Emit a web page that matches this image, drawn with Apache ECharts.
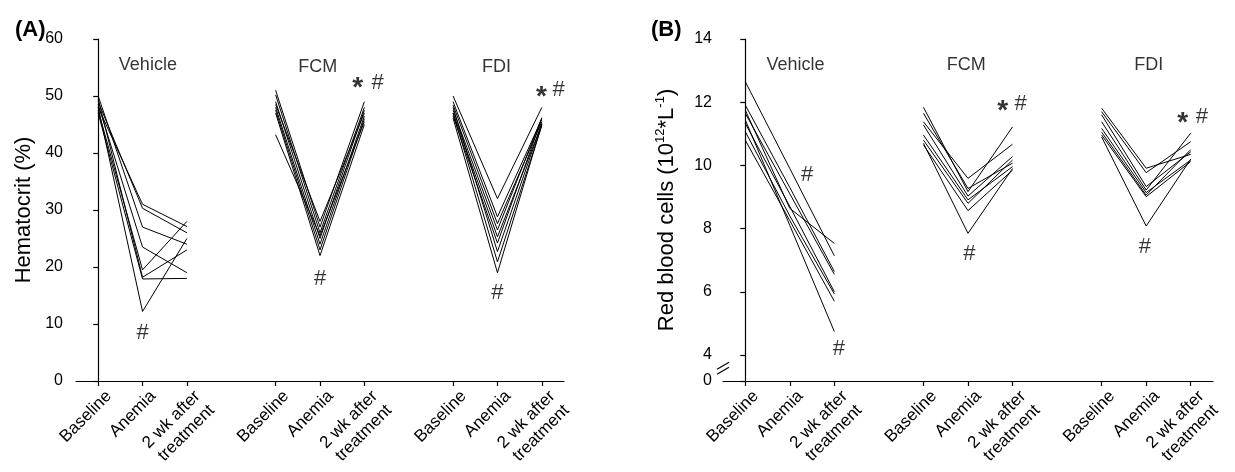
<!DOCTYPE html>
<html><head><meta charset="utf-8">
<script src="https://cdn.jsdelivr.net/npm/echarts@6/dist/echarts.min.js"></script>
<style>html,body{margin:0;padding:0;background:#fff}#c{width:1235px;height:472px}</style>
</head><body><div id="c"></div>
<script>
// ---- data ----
const categories = ['Baseline', 'Anemia', '2 wk after\ntreatment'];
const groups = ['Vehicle', 'FCM', 'FDI'];

// Hematocrit (%) per animal: [Baseline, Anemia, 2 wk after treatment]
const hctVehicle = [
  [48.0, 31.0, 27.1], [49.0, 30.3, 26.0], [50.0, 27.0, 24.0], [48.5, 23.5, 19.0],
  [47.5, 19.5, 28.0], [49.5, 18.2, 23.0], [47.0, 17.9, 18.0], [48.0, 12.2, 25.0]
];
const hctFCM = [
  [51.0, 27.0, 49.0], [50.2, 26.0, 48.0], [49.0, 25.0, 47.5], [48.0, 24.0, 46.5],
  [47.5, 23.0, 46.0], [47.0, 22.0, 45.0], [43.2, 25.5, 45.5], [48.5, 28.0, 47.0]
];
const hctFDI = [
  [50.0, 32.0, 48.0], [49.0, 28.8, 46.0], [48.4, 27.6, 45.5], [47.5, 26.5, 46.2],
  [47.0, 25.3, 45.0], [46.5, 24.2, 46.0], [48.0, 22.7, 45.2], [47.0, 20.9, 44.8],
  [46.1, 19.0, 45.0]
];

// Red blood cells (10^12/L)
const rbcVehicle = [
  [12.65, 9.90, 7.14], [11.91, 9.30, 6.64], [11.75, 8.64, 7.53], [11.65, 9.10, 6.55],
  [11.44, 8.10, 4.74], [11.33, 8.70, 6.00], [11.07, 8.40, 5.93], [10.80, 8.25, 5.70]
];
const rbcFCM = [
  [11.38, 9.59, 10.67], [11.84, 9.17, 11.22], [11.65, 9.27, 10.07], [11.28, 9.03, 10.28],
  [10.96, 8.91, 9.96], [10.80, 8.80, 10.17], [10.65, 8.57, 9.85], [10.70, 7.85, 9.90]
];
const rbcFDI = [
  [11.81, 9.91, 10.35], [11.70, 9.77, 10.75], [11.60, 9.33, 10.43], [11.38, 9.22, 11.02],
  [11.17, 9.14, 10.17], [11.05, 9.06, 10.50], [10.96, 9.01, 10.12], [10.90, 8.08, 10.20]
];

const hctTicks = [0, 10, 20, 30, 40, 50, 60];
const rbcTicks = [0, 4, 6, 8, 10, 12, 14];
const rbcBreakMin = 3.177;   // axis bottom (shown as 0, axis broken)

// annotations: [x position, value, text]
const hctGroupLabels = [[1.12, 55.4, 'Vehicle'], [4.95, 55.1, 'FCM'], [8.98, 55.1, 'FDI']];
const rbcGroupLabels = [[1.13, 13.18, 'Vehicle'], [4.96, 13.18, 'FCM'], [9.06, 13.18, 'FDI']];
const hctMarks = [[1.0, 8.4, '#'], [5.0, 17.9, '#'], [5.85, 51.4, '*'], [6.30, 52.3, '#'],
                  [9.0, 15.4, '#'], [9.99, 49.8, '*'], [10.38, 51.0, '#']];
const rbcMarks = [[1.39, 9.70, '#'], [2.10, 4.19, '#'], [5.03, 7.20, '#'], [5.78, 11.72, '*'],
                  [6.18, 11.94, '#'], [8.97, 7.42, '#'], [9.82, 11.34, '*'], [10.25, 11.53, '#']];

// ---- chart ----
const FONT = 'Liberation Sans, Arial, sans-serif';
const catPositions = [];
groups.forEach((g, gi) => categories.forEach((c, ci) => catPositions.push(gi * 4 + ci)));

function lineSeries(sets, gridIdx) {
  const out = [];
  sets.forEach((set, gi) => {
    set.forEach(animal => {
      out.push({
        type: 'line', xAxisIndex: gridIdx, yAxisIndex: gridIdx,
        data: animal.map((v, ci) => [gi * 4 + ci, v]),
        symbol: 'none', silent: true,
        lineStyle: { color: '#000', width: 1 }
      });
    });
  });
  return out;
}
function textSeries(items, gridIdx, isGroup) {
  return {
    type: 'scatter', xAxisIndex: gridIdx, yAxisIndex: gridIdx, silent: true,
    symbolSize: 1, itemStyle: { color: 'rgba(0,0,0,0)' },
    data: items.map(it => ({
      value: [it[0], it[1]],
      label: {
        show: true, position: 'inside', formatter: it[2], color: '#000', fontFamily: FONT,
        fontSize: isGroup ? 18 : (it[2] === '*' ? 28 : 22),
        fontWeight: it[2] === '*' ? 'bold' : 'normal'
      }
    }))
  };
}
function xAxis(gridIndex) {
  return {
    type: 'value', gridIndex, min: -0.5, max: 10.5,
    axisLine: { show: true, lineStyle: { color: '#000', width: 1.2 } },
    axisTick: { show: true, customValues: catPositions, length: 5, lineStyle: { color: '#000', width: 1.2 } },
    axisLabel: {
      customValues: catPositions, rotate: 45, margin: 2, fontSize: 17, lineHeight: 20,
      color: '#000', fontFamily: FONT, verticalAlign: 'top', align: 'right', padding: [5, 0, 0, 0],
      formatter: v => categories[Math.round(v) % 4] || ''
    },
    splitLine: { show: false }
  };
}

const chart = echarts.init(document.getElementById('c'));
chart.setOption({
  animation: false,
  backgroundColor: '#fff',
  textStyle: { fontFamily: FONT, color: '#000' },
  title: [
    { text: '(A)', left: 10, top: 14, textStyle: { fontSize: 22, fontWeight: 'bold', color: '#000', fontFamily: FONT } },
    { text: '(B)', left: 646, top: 14, textStyle: { fontSize: 22, fontWeight: 'bold', color: '#000', fontFamily: FONT } }
  ],
  grid: [
    { left: 76, top: 39, width: 488, height: 342 },
    { left: 723, top: 39, width: 490, height: 342 }
  ],
  xAxis: [xAxis(0), xAxis(1)],
  yAxis: [
    {
      type: 'value', gridIndex: 0, min: 0, max: 60, interval: 10,
      name: 'Hematocrit (%)', nameLocation: 'middle', nameGap: 41,
      nameTextStyle: { fontSize: 22, color: '#000', fontFamily: FONT },
      axisLine: { show: true, lineStyle: { color: '#000', width: 1.2 } },
      axisTick: { show: true, length: 5, lineStyle: { color: '#000', width: 1.2 } },
      axisLabel: { fontSize: 16, color: '#000', margin: 13, fontFamily: FONT,
                   customValues: hctTicks },
      splitLine: { show: false }
    },
    {
      type: 'value', gridIndex: 1, min: rbcBreakMin, max: 14,
      name: '{a|Red blood cells (10}{s|12}{a|*L}{s|-1}{a|)}', nameLocation: 'middle', nameGap: 43,
      nameTextStyle: {
        fontFamily: FONT, color: '#000',
        rich: {
          a: { fontSize: 22, fontFamily: FONT, color: '#000', lineHeight: 26 },
          s: { fontSize: 13, fontFamily: FONT, color: '#000', verticalAlign: 'top', lineHeight: 26 }
        }
      },
      axisLine: { show: true, lineStyle: { color: '#000', width: 1.2 } },
      axisTick: { show: true, length: 5, lineStyle: { color: '#000', width: 1.2 },
                  customValues: rbcTicks.map(v => v === 0 ? rbcBreakMin : v) },
      axisLabel: { fontSize: 16, color: '#000', margin: 11, fontFamily: FONT,
                   customValues: rbcTicks.map(v => v === 0 ? rbcBreakMin : v),
                   formatter: v => (v < 4 ? '0' : String(Math.round(v))) },
      splitLine: { show: false }
    }
  ],
  series: [
    ...lineSeries([hctVehicle, hctFCM, hctFDI], 0),
    ...lineSeries([rbcVehicle, rbcFCM, rbcFDI], 1),
    textSeries(hctGroupLabels, 0, true),
    textSeries(rbcGroupLabels, 1, true),
    textSeries(hctMarks, 0, false),
    textSeries(rbcMarks, 1, false)
  ]
});

// axis break marks on the RBC y-axis
const bp = chart.convertToPixel({ gridIndex: 1 }, [-0.5, 3.58]);
const bx = bp[0], by = bp[1];
chart.setOption({
  graphic: [
    { type: 'polygon', shape: { points: [[bx - 6, by + 2], [bx + 6, by - 5], [bx + 6, by - 1], [bx - 6, by + 6]] },
      style: { fill: '#fff' }, z: 100 },
    { type: 'line', shape: { x1: bx - 6, y1: by + 1, x2: bx + 6, y2: by - 6 }, style: { stroke: '#000', lineWidth: 1.2 }, z: 101 },
    { type: 'line', shape: { x1: bx - 6, y1: by + 6, x2: bx + 6, y2: by - 1 }, style: { stroke: '#000', lineWidth: 1.2 }, z: 101 }
  ]
});
</script>
</body></html>
